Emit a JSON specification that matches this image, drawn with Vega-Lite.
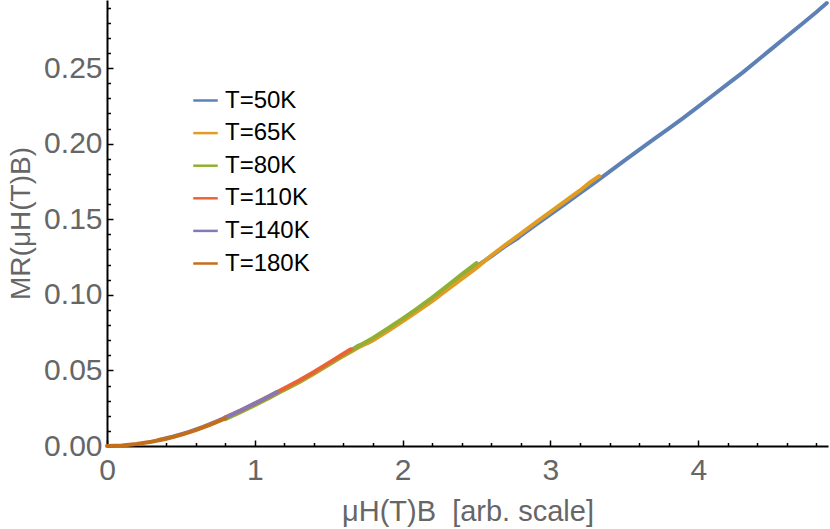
{
  "$schema": "https://vega.github.io/schema/vega-lite/v6.json",
  "width": 721,
  "height": 446,
  "autosize": {"type": "none"},
  "padding": {"left": 107, "top": 0, "right": 2, "bottom": 83},
  "background": "white",
  "config": {
    "view": {"stroke": null},
    "font": "Liberation Sans",
    "axis": {"labelFontSize": 30, "titleFontSize": 28}
  },
  "data": {
    "values": [
      {"T": "T=50K", "x": 1.60, "y": 0.0600},
      {"T": "T=50K", "x": 1.70, "y": 0.0662},
      {"T": "T=50K", "x": 1.76, "y": 0.0680},
      {"T": "T=50K", "x": 1.80, "y": 0.0702},
      {"T": "T=50K", "x": 1.90, "y": 0.0768},
      {"T": "T=50K", "x": 2.00, "y": 0.0834},
      {"T": "T=50K", "x": 2.10, "y": 0.0900},
      {"T": "T=50K", "x": 2.20, "y": 0.0970},
      {"T": "T=50K", "x": 2.30, "y": 0.1043},
      {"T": "T=50K", "x": 2.40, "y": 0.1118},
      {"T": "T=50K", "x": 2.50, "y": 0.1188},
      {"T": "T=50K", "x": 2.60, "y": 0.1255},
      {"T": "T=50K", "x": 2.70, "y": 0.1325},
      {"T": "T=50K", "x": 2.78, "y": 0.1375},
      {"T": "T=50K", "x": 2.80, "y": 0.1392},
      {"T": "T=50K", "x": 2.90, "y": 0.1462},
      {"T": "T=50K", "x": 3.00, "y": 0.1532},
      {"T": "T=50K", "x": 3.10, "y": 0.1602},
      {"T": "T=50K", "x": 3.20, "y": 0.1672},
      {"T": "T=50K", "x": 3.30, "y": 0.1742},
      {"T": "T=50K", "x": 3.40, "y": 0.1815},
      {"T": "T=50K", "x": 3.50, "y": 0.1887},
      {"T": "T=50K", "x": 3.60, "y": 0.1958},
      {"T": "T=50K", "x": 3.70, "y": 0.2030},
      {"T": "T=50K", "x": 3.80, "y": 0.2100},
      {"T": "T=50K", "x": 3.90, "y": 0.2170},
      {"T": "T=50K", "x": 4.00, "y": 0.2245},
      {"T": "T=50K", "x": 4.10, "y": 0.2320},
      {"T": "T=50K", "x": 4.20, "y": 0.2395},
      {"T": "T=50K", "x": 4.30, "y": 0.2470},
      {"T": "T=50K", "x": 4.40, "y": 0.2550},
      {"T": "T=50K", "x": 4.50, "y": 0.2630},
      {"T": "T=50K", "x": 4.60, "y": 0.2710},
      {"T": "T=50K", "x": 4.70, "y": 0.2790},
      {"T": "T=50K", "x": 4.80, "y": 0.2870},
      {"T": "T=50K", "x": 4.87, "y": 0.2930},
      {"T": "T=65K", "x": 1.20, "y": 0.0372},
      {"T": "T=65K", "x": 1.30, "y": 0.0422},
      {"T": "T=65K", "x": 1.40, "y": 0.0478},
      {"T": "T=65K", "x": 1.50, "y": 0.0537},
      {"T": "T=65K", "x": 1.60, "y": 0.0596},
      {"T": "T=65K", "x": 1.70, "y": 0.0652},
      {"T": "T=65K", "x": 1.80, "y": 0.0700},
      {"T": "T=65K", "x": 1.90, "y": 0.0760},
      {"T": "T=65K", "x": 2.00, "y": 0.0825},
      {"T": "T=65K", "x": 2.10, "y": 0.0890},
      {"T": "T=65K", "x": 2.20, "y": 0.0958},
      {"T": "T=65K", "x": 2.30, "y": 0.1032},
      {"T": "T=65K", "x": 2.40, "y": 0.1106},
      {"T": "T=65K", "x": 2.50, "y": 0.1178},
      {"T": "T=65K", "x": 2.60, "y": 0.1260},
      {"T": "T=65K", "x": 2.70, "y": 0.1333},
      {"T": "T=65K", "x": 2.80, "y": 0.1405},
      {"T": "T=65K", "x": 2.90, "y": 0.1477},
      {"T": "T=65K", "x": 3.00, "y": 0.1548},
      {"T": "T=65K", "x": 3.10, "y": 0.1620},
      {"T": "T=65K", "x": 3.20, "y": 0.1690},
      {"T": "T=65K", "x": 3.27, "y": 0.1745},
      {"T": "T=65K", "x": 3.33, "y": 0.1785},
      {"T": "T=80K", "x": 0.80, "y": 0.0178},
      {"T": "T=80K", "x": 0.90, "y": 0.0222},
      {"T": "T=80K", "x": 1.00, "y": 0.0270},
      {"T": "T=80K", "x": 1.10, "y": 0.0320},
      {"T": "T=80K", "x": 1.20, "y": 0.0372},
      {"T": "T=80K", "x": 1.30, "y": 0.0425},
      {"T": "T=80K", "x": 1.40, "y": 0.0482},
      {"T": "T=80K", "x": 1.50, "y": 0.0541},
      {"T": "T=80K", "x": 1.60, "y": 0.0600},
      {"T": "T=80K", "x": 1.70, "y": 0.0660},
      {"T": "T=80K", "x": 1.80, "y": 0.0715},
      {"T": "T=80K", "x": 1.90, "y": 0.0778},
      {"T": "T=80K", "x": 2.00, "y": 0.0843},
      {"T": "T=80K", "x": 2.10, "y": 0.0910},
      {"T": "T=80K", "x": 2.20, "y": 0.0982},
      {"T": "T=80K", "x": 2.30, "y": 0.1058},
      {"T": "T=80K", "x": 2.40, "y": 0.1135},
      {"T": "T=80K", "x": 2.50, "y": 0.1210},
      {"T": "T=110K", "x": 0.80, "y": 0.0190},
      {"T": "T=110K", "x": 0.90, "y": 0.0232},
      {"T": "T=110K", "x": 1.00, "y": 0.0280},
      {"T": "T=110K", "x": 1.10, "y": 0.0330},
      {"T": "T=110K", "x": 1.20, "y": 0.0382},
      {"T": "T=110K", "x": 1.30, "y": 0.0433},
      {"T": "T=110K", "x": 1.40, "y": 0.0490},
      {"T": "T=110K", "x": 1.50, "y": 0.0550},
      {"T": "T=110K", "x": 1.60, "y": 0.0610},
      {"T": "T=110K", "x": 1.65, "y": 0.0640},
      {"T": "T=140K", "x": 0.35, "y": 0.0040},
      {"T": "T=140K", "x": 0.45, "y": 0.0063},
      {"T": "T=140K", "x": 0.55, "y": 0.0092},
      {"T": "T=140K", "x": 0.65, "y": 0.0126},
      {"T": "T=140K", "x": 0.75, "y": 0.0166},
      {"T": "T=140K", "x": 0.85, "y": 0.0210},
      {"T": "T=140K", "x": 0.95, "y": 0.0258},
      {"T": "T=140K", "x": 1.05, "y": 0.0306},
      {"T": "T=140K", "x": 1.15, "y": 0.0357},
      {"T": "T=180K", "x": 0.00, "y": 0.0000},
      {"T": "T=180K", "x": 0.10, "y": 0.0004},
      {"T": "T=180K", "x": 0.20, "y": 0.0013},
      {"T": "T=180K", "x": 0.30, "y": 0.0028},
      {"T": "T=180K", "x": 0.40, "y": 0.0048},
      {"T": "T=180K", "x": 0.50, "y": 0.0074},
      {"T": "T=180K", "x": 0.60, "y": 0.0105},
      {"T": "T=180K", "x": 0.70, "y": 0.0142},
      {"T": "T=180K", "x": 0.80, "y": 0.0183}
    ]
  },
  "mark": {"type": "line", "strokeWidth": 4, "strokeCap": "round", "interpolate": "linear"},
  "encoding": {
    "x": {
      "field": "x",
      "type": "quantitative",
      "scale": {"domain": [0, 4.878], "nice": false, "zero": false},
      "axis": {
        "title": "μH(T)B\u00a0\u00a0[arb. scale]",
        "titleFont": "Liberation Sans",
        "titleFontSize": 29,
        "titleFontWeight": "normal",
        "titleColor": "#666666",
        "titlePadding": 12,
        "values": [0, 0.2, 0.4, 0.6, 0.8, 1, 1.2, 1.4, 1.6, 1.8, 2, 2.2, 2.4, 2.6, 2.8, 3, 3.2, 3.4, 3.6, 3.8, 4, 4.2, 4.4, 4.6, 4.8],
        "labelExpr": "abs(datum.value - round(datum.value)) < 0.001 ? format(datum.value, 'd') : ''",
        "labelFont": "Liberation Sans",
        "labelFontSize": 30,
        "labelColor": "#666666",
        "labelOverlap": false,
        "labelFlush": false,
        "labelPadding": 13,
        "grid": false,
        "domainColor": "black",
        "domainWidth": 2,
        "ticks": true,
        "tickColor": "black",
        "tickWidth": 1.5,
        "tickSize": -4,
        "encoding": {
          "ticks": {
            "y2": {"condition": {"test": "abs(datum.value - round(datum.value)) < 0.001", "value": -6}, "value": -3.5}
          }
        }
      }
    },
    "y": {
      "field": "y",
      "type": "quantitative",
      "scale": {"domain": [0, 0.295], "nice": false, "zero": false},
      "axis": {
        "title": "MR(μH(T)B)",
        "titleFont": "Liberation Sans",
        "titleFontSize": 28,
        "titleFontWeight": "normal",
        "titleColor": "#666666",
        "titlePadding": 8,
        "values": [0, 0.01, 0.02, 0.03, 0.04, 0.05, 0.06, 0.07, 0.08, 0.09, 0.1, 0.11, 0.12, 0.13, 0.14, 0.15, 0.16, 0.17, 0.18, 0.19, 0.2, 0.21, 0.22, 0.23, 0.24, 0.25, 0.26, 0.27, 0.28, 0.29],
        "labelExpr": "round(datum.value * 100) % 5 == 0 ? format(datum.value, '.2f') : ''",
        "labelFont": "Liberation Sans",
        "labelFontSize": 30,
        "labelColor": "#666666",
        "labelOverlap": false,
        "labelFlush": false,
        "labelPadding": 9,
        "grid": false,
        "domainColor": "black",
        "domainWidth": 2,
        "ticks": true,
        "tickColor": "black",
        "tickWidth": 1.5,
        "tickSize": -4,
        "encoding": {
          "ticks": {
            "x2": {"condition": {"test": "round(datum.value * 100) % 5 == 0", "value": 6}, "value": 3.5}
          }
        }
      }
    },
    "color": {
      "field": "T",
      "type": "nominal",
      "scale": {
        "domain": ["T=50K", "T=65K", "T=80K", "T=110K", "T=140K", "T=180K"],
        "range": ["#5E81B5", "#E19C24", "#8FB032", "#EB6235", "#8778B3", "#C56E1A"]
      },
      "legend": {
        "title": null,
        "orient": "none",
        "legendX": 85,
        "legendY": 87,
        "symbolType": "stroke",
        "symbolSize": 600,
        "symbolStrokeWidth": 2.5,
        "labelFont": "Liberation Sans",
        "labelFontSize": 24,
        "labelColor": "black",
        "labelOffset": 6,
        "rowPadding": 6.6
      }
    },
    "order": {"field": "x", "type": "quantitative"}
  }
}
